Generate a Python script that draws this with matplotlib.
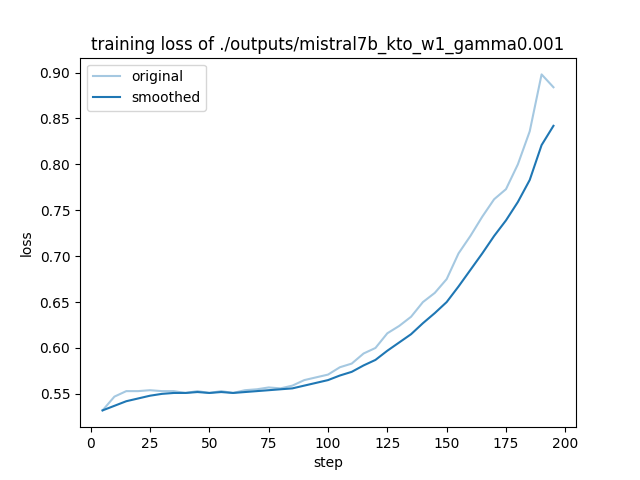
import matplotlib
matplotlib.use("Agg")
import matplotlib.pyplot as plt

steps = list(range(5, 200, 5))
original = [0.532, 0.547, 0.553, 0.553, 0.554, 0.553, 0.553, 0.551, 0.553, 0.551,
            0.553, 0.551, 0.554, 0.555, 0.557, 0.556, 0.559, 0.565, 0.568, 0.571,
            0.579, 0.583, 0.594, 0.600, 0.616, 0.624, 0.634, 0.650, 0.660, 0.675,
            0.703, 0.722, 0.743, 0.762, 0.773, 0.800, 0.836, 0.898, 0.884]
smoothed = [0.532, 0.537, 0.542, 0.545, 0.548, 0.550, 0.551, 0.551, 0.552, 0.551,
            0.552, 0.551, 0.552, 0.553, 0.554, 0.555, 0.556, 0.559, 0.562, 0.565,
            0.570, 0.574, 0.581, 0.587, 0.597, 0.606, 0.615, 0.627, 0.638, 0.650,
            0.667, 0.685, 0.703, 0.722, 0.739, 0.759, 0.783, 0.821, 0.842]

plt.figure(figsize=(6.4, 4.8), dpi=100)
plt.plot(steps, original, color="#1f77b4", alpha=0.4, label="original")
plt.plot(steps, smoothed, color="#1f77b4", label="smoothed")
plt.title("training loss of ./outputs/mistral7b_kto_w1_gamma0.001")
plt.xlabel("step")
plt.ylabel("loss")
plt.legend()
plt.savefig("out.png", format="png", dpi=100)
